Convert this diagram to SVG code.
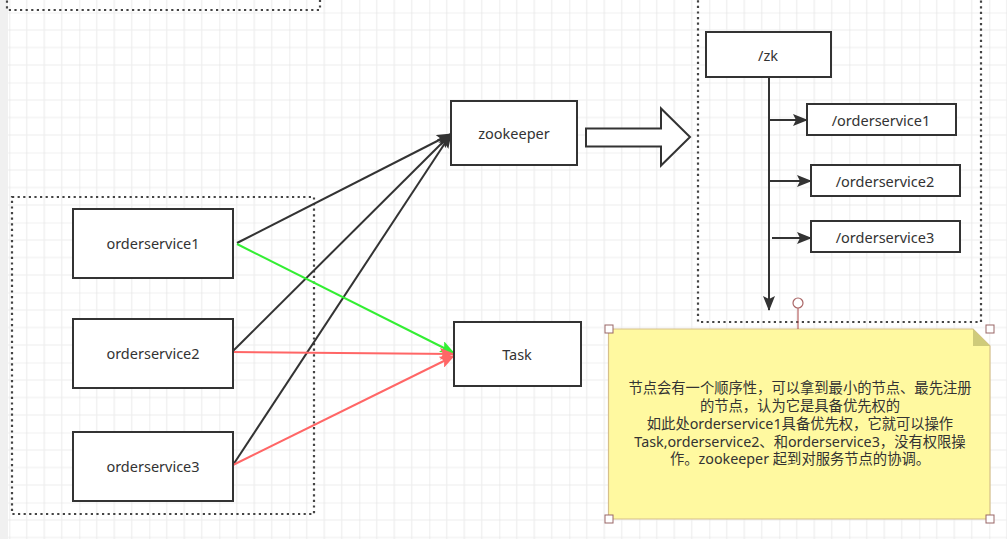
<svg xmlns="http://www.w3.org/2000/svg" width="1007" height="539" viewBox="0 0 1007 539">
<style>
.box{fill:#ffffff;stroke:#333333;stroke-width:2}
.dot{fill:none;stroke:#444444;stroke-width:2.2;stroke-dasharray:2.2 3.4}
.lbl{font-family:"Noto Sans","Noto Sans CJK SC",sans-serif;font-size:14.5px;fill:#333333;text-anchor:middle;dominant-baseline:central}
.note{font-family:"Noto Sans","Noto Sans CJK SC",sans-serif;font-size:14.3px;fill:#333333;text-anchor:middle}
.blk{stroke:#333333;stroke-width:2;fill:none}
.grn{stroke:#33ee33;stroke-width:2;fill:none}
.red{stroke:#ff6666;stroke-width:2;fill:none}
.hdl{fill:#ffffff;stroke:#996666;stroke-width:1}
</style>
<defs>
<pattern id="grid" patternUnits="userSpaceOnUse" x="9.3" y="12.5" width="70" height="70">
<path d="M17.5 0V70M35 0V70M52.5 0V70M0 17.5H70M0 35H70M0 52.5H70" stroke="#ededed" stroke-width="1.2" fill="none"/>
<path d="M0 0V70M0 0H70" stroke="#e2e2e2" stroke-width="1.2" fill="none"/>
</pattern>
<marker id="aBlk" markerUnits="userSpaceOnUse" markerWidth="17" markerHeight="12" refX="14" refY="6" orient="auto">
<path d="M0 0L15 6L0 12L3 6Z" fill="#333333"/>
</marker>
<marker id="aGrn" markerUnits="userSpaceOnUse" markerWidth="17" markerHeight="12" refX="14" refY="6" orient="auto">
<path d="M0 0L15 6L0 12L3 6Z" fill="#33ee33"/>
</marker>
<marker id="aRed" markerUnits="userSpaceOnUse" markerWidth="17" markerHeight="12" refX="14" refY="6" orient="auto">
<path d="M0 0L15 6L0 12L3 6Z" fill="#ff6666"/>
</marker>
</defs>
<rect x="0" y="0" width="1007" height="539" fill="#ffffff"/>
<rect x="0" y="0" width="1007" height="539" fill="url(#grid)"/>
<rect x="0" y="0" width="8" height="539" fill="#f0f0f0"/>

<g id="containers">
<rect class="dot" x="7" y="-40" width="313" height="50"/>
<rect class="dot" x="12" y="197" width="302" height="317"/>
<rect class="dot" x="698" y="-30" width="283" height="352"/>
</g>

<g id="connectors">
<line class="blk" x1="237" y1="243" x2="451" y2="134" marker-end="url(#aBlk)"/>
<line class="blk" x1="232" y1="352" x2="451" y2="134" marker-end="url(#aBlk)"/>
<line class="blk" x1="233" y1="465" x2="451" y2="134" marker-end="url(#aBlk)"/>
<line class="grn" x1="237" y1="244" x2="454" y2="353" marker-end="url(#aGrn)"/>
<line class="red" x1="232" y1="352" x2="454" y2="354" marker-end="url(#aRed)"/>
<line class="red" x1="233" y1="465" x2="454" y2="356" marker-end="url(#aRed)"/>
<line class="blk" x1="769" y1="77" x2="769" y2="310" stroke-width="2.5" marker-end="url(#aBlk)"/>
<line class="blk" x1="769" y1="120" x2="807" y2="120" marker-end="url(#aBlk)"/>
<line class="blk" x1="769" y1="181" x2="811" y2="181" marker-end="url(#aBlk)"/>
<line class="blk" x1="772" y1="238" x2="811" y2="238" marker-end="url(#aBlk)"/>
</g>

<g id="orderservice1"><rect class="box" x="73" y="209" width="160" height="69"/><text class="lbl" x="153" y="243">orderservice1</text></g>
<g id="orderservice2"><rect class="box" x="73" y="319" width="160" height="69"/><text class="lbl" x="153" y="353">orderservice2</text></g>
<g id="orderservice3"><rect class="box" x="73" y="432" width="160" height="69"/><text class="lbl" x="153" y="466">orderservice3</text></g>
<g id="zookeeper"><rect class="box" x="451" y="101" width="126" height="64"/><text class="lbl" x="514" y="133">zookeeper</text></g>
<g id="task"><rect class="box" x="454" y="322" width="127" height="64"/><text class="lbl" x="517" y="354">Task</text></g>

<g id="bigArrow"><path d="M586 128.5H661V108.5L690 137L661 165.5V146.5H586Z" fill="#ffffff" stroke="#333333" stroke-width="2" stroke-linejoin="miter"/></g>

<g id="zk"><rect class="box" x="706" y="32" width="125" height="45"/><text class="lbl" x="768" y="55">/zk</text></g>
<g id="zk-orderservice1"><rect class="box" x="807" y="104" width="149" height="31"/><text class="lbl" x="881" y="120">/orderservice1</text></g>
<g id="zk-orderservice2"><rect class="box" x="811" y="165" width="149" height="31"/><text class="lbl" x="885" y="181">/orderservice2</text></g>
<g id="zk-orderservice3"><rect class="box" x="811" y="221" width="149" height="31"/><text class="lbl" x="885" y="237">/orderservice3</text></g>

<g id="note">
<path d="M608.5 329H973L990 346V519H608.5Z" fill="#fff9a0" stroke="#d6c08a" stroke-width="1.2"/>
<path d="M973 329V346H990Z" fill="#cfcb7a"/>
<text class="note" x="800" y="393">节点会有一个顺序性，可以拿到最小的节点、最先注册</text>
<text class="note" x="800" y="411">的节点，认为它是具备优先权的</text>
<text class="note" x="800" y="429">如此处orderservice1具备优先权，它就可以操作</text>
<text class="note" x="800" y="446.5">Task,orderservice2、和orderservice3，没有权限操</text>
<text class="note" x="800" y="464">作。zookeeper 起到对服务节点的协调。</text>
<line x1="798" y1="308" x2="798" y2="329" stroke="#aa4444" stroke-width="1"/>
<circle cx="798" cy="303" r="5" fill="#ffffff" stroke="#aa6666" stroke-width="1.2"/>
<rect class="hdl" x="605" y="325" width="8" height="8"/>
<rect class="hdl" x="986" y="325" width="8" height="8"/>
<rect class="hdl" x="605" y="515" width="8" height="8"/>
<rect class="hdl" x="986" y="515" width="8" height="8"/>
</g>
</svg>
